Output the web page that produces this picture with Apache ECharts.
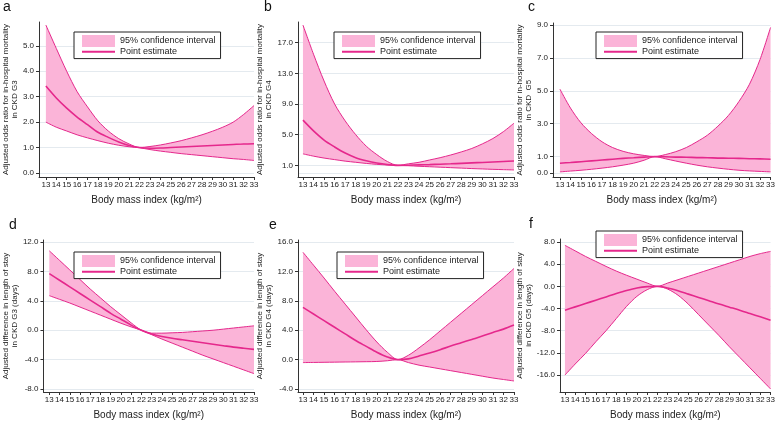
<!DOCTYPE html>
<html>
<head>
<meta charset="utf-8">
<script src="https://cdn.jsdelivr.net/npm/echarts@6/dist/echarts.min.js"></script>
<style>
html,body{margin:0;padding:0;background:#fff;}
#chart{width:778px;height:421px;}
</style>
</head>
<body>
<div id="chart"></div>
<script>
// ---- data ----
const bmi = [13,14,15,16,17,18,19,20,21,22,23,24,25,26,27,28,29,30,31,32,33];
const bmiTicks = [13,14,15,16,17,18,19,20,21,22,23,24,25,26,27,28,29,30,31,32,33];

// a: odds ratio, CKD G3
const aUpper = [5.82,4.9,4.0,3.2,2.6,2.05,1.65,1.35,1.14,1.0,1.04,1.1,1.18,1.27,1.38,1.5,1.64,1.8,2.0,2.3,2.65];
const aEst   = [3.42,2.95,2.55,2.2,1.9,1.6,1.4,1.22,1.08,1.0,0.97,0.98,1.0,1.02,1.04,1.06,1.08,1.1,1.12,1.14,1.15];
const aLower = [2.0,1.8,1.65,1.5,1.38,1.27,1.17,1.09,1.03,0.99,0.92,0.86,0.81,0.76,0.72,0.68,0.64,0.6,0.56,0.53,0.49];
const aTicks = [0,1,2,3,4,5];

// b: odds ratio, CKD G4
const bUpper = [19.3,15.5,12.0,9.0,6.8,5.0,3.5,2.4,1.5,1.0,1.2,1.4,1.7,2.0,2.35,2.75,3.2,3.8,4.5,5.4,6.5];
const bEst   = [6.9,5.5,4.3,3.4,2.6,2.0,1.6,1.3,1.1,1.0,1.02,1.06,1.1,1.15,1.2,1.26,1.32,1.38,1.44,1.5,1.56];
const bLower = [2.5,2.2,1.95,1.75,1.55,1.4,1.25,1.13,1.05,1.0,0.95,0.88,0.82,0.76,0.7,0.64,0.58,0.53,0.48,0.44,0.4];
const bTicks = [0,1,5,9,13,17];

// c: odds ratio, CKD G5
const cUpper = [5.1,3.95,3.05,2.4,1.9,1.55,1.32,1.17,1.07,1.0,1.12,1.3,1.55,1.9,2.3,2.85,3.5,4.35,5.4,6.9,8.85];
const cEst   = [0.6,0.64,0.69,0.74,0.79,0.84,0.89,0.93,0.97,1.0,0.99,0.97,0.96,0.94,0.93,0.91,0.9,0.89,0.87,0.86,0.84];
const cLower = [0.07,0.12,0.17,0.23,0.3,0.38,0.48,0.6,0.78,1.0,0.87,0.73,0.6,0.48,0.38,0.3,0.23,0.17,0.13,0.1,0.07];
const cTicks = [0,1,3,5,7,9];

// d: length of stay, CKD G3
const dUpper = [10.8,9.5,8.2,6.9,5.6,4.4,3.2,2.1,1.0,0.0,-0.4,-0.4,-0.35,-0.3,-0.2,-0.1,0.0,0.15,0.3,0.45,0.6];
const dEst   = [7.7,6.8,5.9,5.0,4.1,3.2,2.3,1.5,0.7,0.0,-0.5,-0.85,-1.1,-1.3,-1.5,-1.7,-1.9,-2.1,-2.3,-2.45,-2.6];
const dLower = [4.7,4.2,3.7,3.15,2.6,2.05,1.5,0.95,0.45,0.0,-0.6,-1.2,-1.75,-2.3,-2.85,-3.4,-3.9,-4.4,-4.9,-5.4,-5.9];
const dTicks = [-8,-4,0,4,8,12];

// e: length of stay, CKD G4
const eUpper = [14.6,12.85,11.1,9.3,7.55,5.8,4.05,2.4,1.0,0.0,0.6,1.6,2.7,3.9,5.1,6.3,7.5,8.7,9.9,11.1,12.4];
const eEst   = [7.1,6.2,5.3,4.4,3.5,2.6,1.8,1.0,0.35,0.0,0.1,0.5,0.9,1.35,1.85,2.3,2.75,3.2,3.7,4.15,4.7];
const eLower = [-0.4,-0.38,-0.36,-0.34,-0.32,-0.3,-0.28,-0.25,-0.15,0.0,-0.4,-0.75,-1.0,-1.25,-1.5,-1.75,-2.0,-2.25,-2.5,-2.7,-2.9];
const eTicks = [-4,0,4,8,12,16];

// f: length of stay, CKD G5
const fUpper = [7.4,6.4,5.4,4.5,3.6,2.75,2.0,1.3,0.6,0.0,0.6,1.2,1.8,2.4,3.0,3.6,4.2,4.8,5.4,5.9,6.3];
const fEst   = [-4.3,-3.7,-3.1,-2.5,-1.9,-1.3,-0.75,-0.3,-0.05,0.0,-0.3,-0.8,-1.4,-2.0,-2.6,-3.2,-3.75,-4.3,-4.9,-5.5,-6.1];
const fLower = [-16.0,-14.0,-12.1,-10.0,-8.0,-5.8,-3.6,-1.8,-0.6,0.0,-0.5,-1.6,-3.2,-5.1,-7.0,-8.9,-10.9,-12.8,-14.7,-16.6,-18.5];
const fTicks = [-16,-12,-8,-4,0,4,8];

const yNames = [
  'Adjusted odds ratio for in-hospital mortality\nin CKD G3',
  'Adjusted odds ratio for in-hospital mortality\nin CKD G4',
  'Adjusted odds ratio for in-hospital mortality\nin CKD  G5',
  'Adjusted difference in length of stay\nin CKD G3 (days)',
  'Adjusted difference in length of stay\nin CKD G4 (days)',
  'Adjusted difference in length of stay\nin CKD G5 (days)'
];
const panelLetters = ['a','b','c','d','e','f'];
const xName = 'Body mass index (kg/m\u00B2)';
const bandName = '95% confidence interval';
const estName = 'Point estimate';

// ---- layout (styles / positions) ----
const FILL = '#fbb4d8';
const LINE = '#e5288c';
const FONT = 'Liberation Sans, Arial, sans-serif';

const panels = [
  {up:aUpper, est:aEst, lo:aLower, ticks:aTicks, grid:{left:35, top:22, width:219, height:155}, xmin:12.34, ymin:-0.16, ymax:5.94, nameGap:18, legend:{left:74, top:32}, letter:[3,0]},
  {up:bUpper, est:bEst, lo:bLower, ticks:bTicks, grid:{left:298, top:22, width:216, height:155}, xmin:12.53, ymin:-0.52, ymax:19.7, nameGap:19, legend:{left:334, top:32}, letter:[264,0]},
  {up:cUpper, est:cEst, lo:cLower, ticks:cTicks, grid:{left:553, top:23, width:219, height:154}, xmin:12.34, ymin:-0.24, ymax:9.12, nameGap:18, legend:{left:596, top:32}, letter:[528,0]},
  {up:dUpper, est:dEst, lo:dLower, ticks:dTicks, grid:{left:36, top:240, width:218, height:155}, xmin:12.43, ymin:-8.4, ymax:12.27, nameGap:19, legend:{left:74, top:252}, letter:[9,218]},
  {up:eUpper, est:eEst, lo:eLower, ticks:eTicks, grid:{left:298, top:240, width:216, height:155}, xmin:12.53, ymin:-4.4, ymax:16.27, nameGap:20, legend:{left:337, top:252}, letter:[269,218]},
  {up:fUpper, est:fEst, lo:fLower, ticks:fTicks, grid:{left:560, top:239, width:212, height:154}, xmin:12.52, ymin:-19.05, ymax:8.54, nameGap:23, legend:{left:596, top:231}, letter:[529,217]}
];

const grids = [], xAxes = [], yAxes = [], series = [], legends = [], graphics = [];
panels.forEach((p, i) => {
  grids.push(Object.assign({containLabel:false}, p.grid));
  xAxes.push({
    type:'value', gridIndex:i, min:p.xmin, max:33,
    name:xName, nameLocation:'middle', nameGap:18,
    nameTextStyle:{fontSize:10, color:'#222', fontFamily:FONT},
    axisLine:{show:true, onZero:false, lineStyle:{color:'#333', width:1}},
    axisTick:{show:true, length:3, customValues:bmiTicks, lineStyle:{color:'#333'}},
    axisLabel:{customValues:bmiTicks, margin:4, fontSize:8, color:'#222', fontFamily:FONT},
    splitLine:{show:false}
  });
  yAxes.push({
    type:'value', gridIndex:i, min:p.ymin, max:p.ymax,
    name:yNames[i], nameLocation:'middle', nameRotate:90, nameGap:p.nameGap,
    nameTextStyle:{fontSize:8, lineHeight:9, color:'#222', fontFamily:FONT, align:'center'},
    axisLine:{show:true, onZero:false, lineStyle:{color:'#333', width:1}},
    axisTick:{show:true, length:3, customValues:p.ticks, lineStyle:{color:'#333'}},
    axisLabel:{customValues:p.ticks, margin:5, fontSize:8, color:'#222', fontFamily:FONT,
      formatter:v => Number(v).toFixed(1)},
    splitLine:{show:true, customValues:p.ticks, lineStyle:{color:'#e4eaef', width:1}}
  });
  const stackId = 'band' + i;
  // data stored as [y, x] with encode so that the stacked dimension is y
  series.push({
    type:'line', name:'lower' + i, xAxisIndex:i, yAxisIndex:i,
    encode:{x:1, y:0},
    stack:stackId, stackStrategy:'all', symbol:'none', smooth:0.3,
    lineStyle:{color:LINE, width:1}, itemStyle:{color:LINE}, z:3,
    data:bmi.map((x, k) => [p.lo[k], x])
  });
  series.push({
    type:'line', name:bandName, xAxisIndex:i, yAxisIndex:i,
    encode:{x:1, y:0},
    stack:stackId, stackStrategy:'all', symbol:'none', smooth:0.3,
    lineStyle:{color:LINE, width:1}, itemStyle:{color:FILL},
    areaStyle:{color:FILL, opacity:1}, z:2,
    data:bmi.map((x, k) => [p.up[k] - p.lo[k], x])
  });
  series.push({
    type:'line', name:estName, xAxisIndex:i, yAxisIndex:i,
    symbol:'none', smooth:0.3,
    lineStyle:{color:LINE, width:1.6}, itemStyle:{color:LINE}, z:4,
    data:bmi.map((x, k) => [x, p.est[k]])
  });
  legends.push({
    orient:'vertical', left:p.legend.left, top:p.legend.top,
    backgroundColor:'#fff', borderColor:'#222', borderWidth:1,
    padding:[3,5,2,7], itemGap:0, itemWidth:33, itemHeight:12,
    selectedMode:false,
    textStyle:{fontSize:9, color:'#222', fontFamily:FONT},
    data:[
      {name:bandName, icon:'rect', itemStyle:{color:FILL, borderWidth:0}},
      {name:estName, itemStyle:{color:'rgba(0,0,0,0)', borderWidth:0, opacity:0}}
    ]
  });
  graphics.push({
    type:'text', left:p.letter[0], top:p.letter[1],
    style:{text:panelLetters[i], fontSize:14, fill:'#111', fontFamily:FONT}
  });
});

const chart = echarts.init(document.getElementById('chart'), null, {renderer:'canvas'});
chart.setOption({
  animation:false,
  backgroundColor:'#fff',
  grid:grids, xAxis:xAxes, yAxis:yAxes, series:series, legend:legends, graphic:graphics
});
</script>
</body>
</html>
